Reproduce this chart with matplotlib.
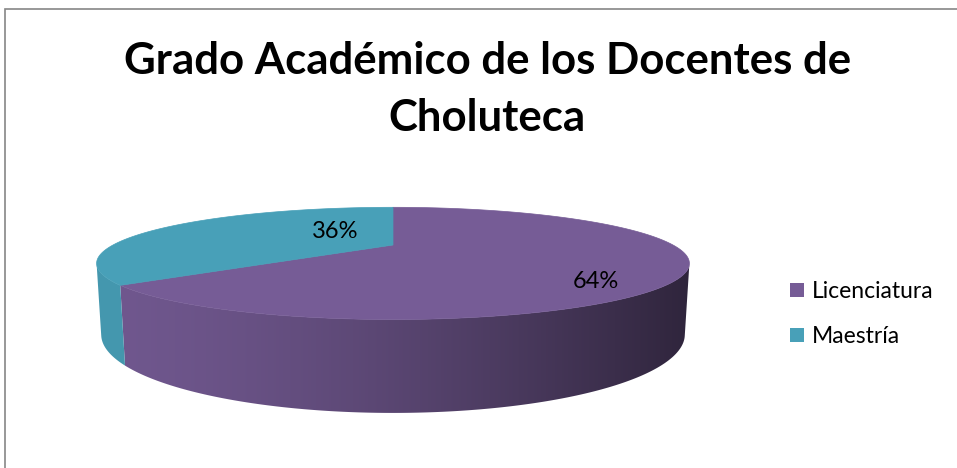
import matplotlib.pyplot as plt
import numpy as np
from matplotlib.patches import Rectangle, Patch, Polygon

# data
categories = ['Licenciatura', 'Maestría']
shares = [64, 36]
labels = ['64%', '36%']
colors = ['#765c96', '#48a0b8']

# view of the 3D pie (camera elevation, distance, thickness)
elev = np.radians(10.3)
dist = 3.0
thick = 0.2365
px_per_unit = 280.0
W, H = 957, 468
cx, cy = 393, 245  # pixel position of the pie centre

# label anchors in projected units (layout only)
label_pos = [(0.725, -0.129), (-0.207, 0.05)]


def project(x, y, z):
    ys = y * np.cos(elev) - z * np.sin(elev)
    zc = y * np.sin(elev) + z * np.cos(elev)
    s = dist / (dist - zc)
    return x * s, ys * s


def shade(c, f):
    rgb = np.array(plt.matplotlib.colors.to_rgb(c))
    return np.clip(rgb[None, :] * f[:, None], 0, 1)


fig = plt.figure(figsize=(W / 100, H / 100), dpi=100)
ax = fig.add_axes([0, 0, 1, 1])
x0, x1 = -cx / px_per_unit, (W - cx) / px_per_unit
y0, y1 = -(H - cy) / px_per_unit, cy / px_per_unit
ax.set_xlim(x0, x1)
ax.set_ylim(y0, y1)
ax.axis('off')

# slice angles, clockwise from 12 o'clock
bounds = np.concatenate([[0], np.cumsum(shares)]) / sum(shares) * 2 * np.pi

# visible part of the outer wall (between the two silhouette lines)
sil_r = np.arccos(-1 / (dist * np.cos(elev)))
sil_l = 2 * np.pi - sil_r
xl, _ = project(np.sin(sil_l), 0, -np.cos(sil_l))
xr, _ = project(np.sin(sil_r), 0, -np.cos(sil_r))
xs = np.linspace(x0, x1, W)
t = np.clip((xs - xl) / (xr - xl), 0, 1)
fac = 0.95 - 0.55 * t ** 1.5

for i in range(len(shares)):
    a, b = max(bounds[i], sil_r), min(bounds[i + 1], sil_l)
    if a >= b:
        continue
    phis = np.linspace(a, b, 300)
    top = [project(np.sin(p), 0, -np.cos(p)) for p in phis]
    bot = [project(np.sin(p), -thick, -np.cos(p)) for p in phis[::-1]]
    wall = Polygon(top + bot, closed=True, facecolor='none', edgecolor='none')
    ax.add_patch(wall)
    grad = shade(colors[i], fac)[None, :, :]
    im = ax.imshow(grad, extent=(x0, x1, y0, y1), aspect='auto',
                   interpolation='bilinear', zorder=1)
    im.set_clip_path(wall)

# top faces
for i in range(len(shares)):
    phis = np.linspace(bounds[i], bounds[i + 1], 300)
    pts = [project(0, 0, 0)] + [project(np.sin(p), 0, -np.cos(p)) for p in phis]
    ax.fill([p[0] for p in pts], [p[1] for p in pts], color=colors[i],
            lw=0.5, zorder=2)

for lab, (lx, ly) in zip(labels, label_pos):
    ax.text(lx, ly, lab, ha='center', va='center', fontsize=17,
            family='Lato', color='black', zorder=3)

fig.text(0.509, 1 - 41.5 / H, 'Grado Académico de los Docentes de\nCholuteca',
         ha='center', va='top', fontsize=31.5, fontweight='bold', family='Lato',
         linespacing=1.5)

handles = [Patch(facecolor=c, edgecolor='none') for c in colors]
fig.legend(handles, categories, loc='center left',
           bbox_to_anchor=(769 / W, 1 - 314 / H), frameon=False,
           prop={'family': 'Lato', 'size': 16.5}, handlelength=0.61,
           handleheight=0.61, handletextpad=0.35, labelspacing=1.05)

# chart frame
fig.patches.append(Rectangle((5 / W, -0.1), 1.2, 1 - 9 / H + 0.1,
                             transform=fig.transFigure, fill=False,
                             edgecolor='#868686', lw=1.2))

fig.savefig('out.png', dpi=100)
